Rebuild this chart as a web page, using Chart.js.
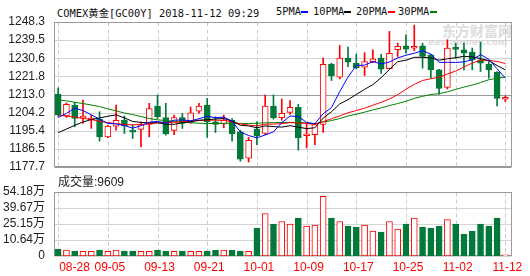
<!DOCTYPE html>
<html>
<head>
<meta charset="utf-8">
<script src="https://cdn.jsdelivr.net/npm/chart.js@4.4.0/dist/chart.umd.min.js"></script>
<style>
  body { margin: 0; background: #fff; width: 530px; height: 276px; overflow: hidden; position: relative; }
  .t { position: absolute; top: 5px; line-height: 12px; font: 10.4px "DejaVu Sans Mono", "Noto Sans CJK SC", monospace; color: #111; white-space: nowrap; }
  .d { position: absolute; top: 11px; width: 7px; height: 2px; }
  .wm { position: absolute; color: #dcdcdc; font-weight: bold; white-space: nowrap; }
  canvas { position: absolute; left: 0; }
  #vol-title { position: absolute; left: 58px; top: 172px; line-height: 14px; font: 12px "Liberation Sans", "Noto Sans CJK SC", sans-serif; color: #222; }
</style>
</head>
<body>
<div class="wm" style="left:442px;top:20px;font:bold 14px 'Noto Sans CJK SC'">东方财富网</div>
<div class="wm" style="left:428px;top:37px;font:bold 9px 'DejaVu Sans'">eastmoney.com</div>

<div class="t" style="left:57px">COMEX黄金[GC00Y] 2018-11-12 09:29</div>
<div class="t" style="left:276px">5PMA</div><div class="d" style="left:301px;background:#0000ff"></div>
<div class="t" style="left:313px">10PMA</div><div class="d" style="left:344px;background:#000"></div>
<div class="t" style="left:356px">20PMA</div><div class="d" style="left:388px;background:#ff0000"></div>
<div class="t" style="left:398px">30PMA</div><div class="d" style="left:430px;background:#008000"></div>

<canvas id="main" width="530" height="176" style="top:0"></canvas>
<div id="vol-title">成交量:9609</div>
<canvas id="vol" width="530" height="106" style="top:170px"></canvas>

<script>
const dates = ['08-28','08-29','08-30','08-31','09-03','09-04','09-05','09-06','09-07','09-10',
  '09-11','09-12','09-13','09-14','09-17','09-18','09-19','09-20','09-21','09-24',
  '09-25','09-26','09-27','09-28','10-01','10-02','10-03','10-04','10-05','10-08',
  '10-09','10-10','10-11','10-12','10-15','10-16','10-17','10-18','10-19','10-22',
  '10-23','10-24','10-25','10-26','10-29','10-30','10-31','11-01','11-02','11-05',
  '11-06','11-07','11-08','11-09','11-12'];
const labelIdx = [0, 6, 12, 18, 24, 30, 36, 42, 48, 54];

const opens = [1213.1,1202.6,1207.9,1201.5,1200.6,1201.0,1192.4,1197.6,1200.4,1195.6,
  1196.0,1198.4,1207.4,1201.8,1195.5,1201.8,1199.4,1204.9,1207.9,1199.7,
  1198.7,1200.4,1194.8,1182.0,1196.1,1194.0,1207.4,1201.7,1204.3,1206.8,
  1192.9,1193.5,1198.4,1227.7,1221.4,1230.7,1228.2,1226.3,1229.0,1230.7,
  1225.6,1234.8,1236.7,1235.5,1236.7,1232.3,1225.0,1216.5,1235.6,1234.8,
  1233.6,1229.9,1227.7,1223.8,1210.7];
const highs = [1216.3,1208.9,1209.2,1210.3,1203.0,1204.6,1198.0,1207.9,1202.5,1198.4,
  1199.7,1208.7,1212.8,1208.7,1203.0,1203.8,1206.9,1208.7,1211.1,1202.2,
  1203.0,1201.3,1195.6,1192.1,1199.7,1212.8,1212.8,1210.8,1210.1,1208.2,
  1198.9,1198.9,1230.7,1228.2,1236.9,1236.1,1232.6,1233.4,1234.8,1232.6,
  1243.7,1238.0,1242.1,1246.8,1238.0,1232.6,1225.3,1239.6,1238.0,1238.0,
  1235.6,1238.5,1229.0,1224.2,1212.3];
const lows = [1202.3,1201.8,1197.3,1198.9,1196.5,1190.3,1192.0,1195.6,1194.0,1191.6,
  1187.5,1192.4,1201.3,1193.2,1193.5,1196.5,1198.9,1203.8,1192.1,1194.5,
  1196.8,1190.3,1180.5,1180.1,1188.6,1193.5,1201.0,1200.5,1203.3,1185.9,
  1187.0,1188.6,1194.5,1219.8,1220.6,1226.6,1225.4,1222.2,1228.5,1223.3,
  1225.4,1231.5,1233.1,1234.3,1225.8,1221.2,1213.2,1215.7,1230.7,1225.0,
  1225.0,1224.2,1220.9,1207.5,1209.5];
const closes = [1203.0,1208.2,1201.3,1201.7,1201.5,1192.4,1197.6,1200.4,1197.8,1194.7,
  1198.4,1206.2,1202.2,1193.8,1201.8,1198.9,1204.1,1207.4,1199.7,1198.4,
  1200.5,1193.8,1181.5,1190.7,1192.9,1207.4,1201.7,1203.8,1206.8,1191.9,
  1193.0,1198.4,1227.7,1222.2,1230.7,1228.7,1226.1,1229.0,1230.4,1225.3,
  1233.1,1236.4,1235.1,1235.6,1231.5,1225.0,1216.0,1235.6,1235.0,1233.1,
  1229.9,1228.2,1225.0,1211.1,1210.8];

const ma5 = [1201.8,1203.8,1206.3,1205.2,1203.1,1201.0,1198.9,1198.7,1197.9,1196.6,
  1197.8,1199.5,1199.9,1199.1,1200.5,1200.6,1200.2,1201.2,1202.4,1201.7,
  1202.0,1200.0,1194.8,1193.0,1191.9,1193.3,1194.8,1199.3,1202.5,1202.3,
  1199.4,1198.8,1203.6,1206.6,1214.4,1221.5,1227.1,1227.3,1229.0,1227.9,
  1228.8,1230.8,1232.1,1233.1,1234.3,1232.7,1228.6,1228.7,1228.6,1228.9,
  1229.9,1232.4,1230.2,1225.5,1221.0];
const ma10 = [1194.4,1196.2,1198.0,1199.6,1200.8,1201.6,1202.4,1203.1,1201.6,1199.9,
  1199.4,1199.2,1199.3,1198.5,1198.5,1199.2,1199.8,1200.5,1200.7,1201.1,
  1201.3,1200.1,1198.0,1197.7,1196.8,1197.7,1197.4,1197.1,1197.8,1197.1,
  1196.4,1196.8,1201.5,1204.6,1208.4,1210.5,1213.0,1215.5,1217.8,1221.2,
  1225.2,1229.0,1229.7,1231.1,1231.1,1230.8,1229.7,1230.4,1230.9,1231.6,
  1231.3,1230.5,1229.5,1227.1,1225.0];
const ma20 = [1203.0,1202.5,1202.0,1201.4,1200.8,1200.0,1199.3,1198.8,1198.4,1198.2,
  1198.4,1198.8,1199.1,1199.3,1199.5,1199.7,1200.0,1200.3,1200.5,1200.5,
  1200.4,1199.7,1198.7,1198.1,1197.7,1198.5,1198.6,1198.8,1199.3,1199.1,
  1198.9,1198.5,1199.8,1201.2,1202.6,1204.1,1205.2,1206.3,1207.8,1209.2,
  1210.8,1212.9,1215.6,1217.9,1219.8,1220.7,1221.4,1223.0,1224.4,1226.4,
  1228.3,1229.8,1229.6,1229.1,1228.1];
const ma30 = [1210.4,1209.9,1209.2,1208.6,1207.9,1207.1,1206.0,1205.0,1204.0,1203.2,
  1202.3,1201.3,1200.7,1200.3,1199.9,1199.6,1199.3,1199.0,1198.9,1198.9,
  1199.0,1199.0,1198.9,1198.9,1199.0,1199.2,1199.3,1199.4,1199.4,1199.4,
  1199.1,1198.7,1199.6,1200.3,1201.3,1202.5,1203.4,1204.4,1205.5,1206.5,
  1207.6,1208.6,1209.7,1211.1,1212.1,1213.0,1213.4,1214.3,1215.5,1216.6,
  1217.6,1218.8,1220.2,1220.9,1221.5];

// 万
const volumes = [5.9,5.1,4.2,4.0,4.0,5.1,4.0,5.1,4.2,4.2,
  4.0,4.0,5.1,4.2,4.0,4.2,4.0,4.0,4.2,5.1,
  5.1,5.1,4.2,4.0,23.6,36.0,27.0,29.2,27.0,32.0,
  25.3,26.1,50.6,32.0,29.2,25.3,24.4,26.1,21.1,20.2,
  29.2,22.8,27.0,32.0,24.4,23.6,25.3,30.9,27.0,18.5,
  21.1,27.0,25.3,32.0,0.96];

const priceTicks = [1177.7,1186.5,1195.4,1204.2,1213.0,1221.8,1230.6,1239.5,1248.3];
const volTicks = [0, 13.545, 27.09, 40.635, 54.18];
const volTickLabels = ['0','10.64万','25.15万','39.67万','54.18万'];

const UP = '#ff0000';
const DOWN = '#00793a';
const isUp = opens.map((o, i) => closes[i] >= o);
const FONT = '"Liberation Sans", "Noto Sans CJK SC", sans-serif';

// grid lines and frame, drawn under the marks
function framePlugin(hTicks, darkIdx) {
  return {
    id: 'frame',
    beforeDatasetsDraw(chart) {
      const { ctx, chartArea: a, scales: { x, y } } = chart;
      const L = Math.round(a.left) + 0.5, R = Math.round(a.right) - 0.5;
      const T = Math.round(a.top) + 0.5, B = Math.round(a.bottom) - 0.5;
      ctx.save();
      ctx.lineWidth = 1;
      ctx.strokeStyle = '#cccccc';
      ctx.setLineDash([4, 3]);
      labelIdx.forEach(i => {
        const px = Math.round(x.getPixelForValue(i)) + 0.5;
        ctx.beginPath(); ctx.moveTo(px, T); ctx.lineTo(px, B); ctx.stroke();
      });
      ctx.setLineDash([]);
      hTicks.forEach((v, k) => {
        const py = Math.round(y.getPixelForValue(v)) + 0.5;
        ctx.strokeStyle = darkIdx.includes(k) ? '#9a9a9a' : '#d4d4d4';
        ctx.beginPath(); ctx.moveTo(L, py); ctx.lineTo(R, py); ctx.stroke();
      });
      ctx.strokeStyle = '#9a9a9a';
      ctx.strokeRect(L, T, R - L, B - T);
      ctx.restore();
    }
  };
}

const dateLabels = {
  id: 'dateLabels',
  afterDraw(chart) {
    const { ctx, chartArea: a, scales: { x } } = chart;
    ctx.save();
    ctx.fillStyle = '#ff0000';
    ctx.font = '12px ' + FONT;
    ctx.textBaseline = 'middle';
    labelIdx.forEach((i, k) => {
      const px = x.getPixelForValue(i);
      ctx.textAlign = k === 0 ? 'left' : 'center';
      ctx.fillText(dates[i], k === 0 ? px + 1 : px + 2, a.bottom + 12);
    });
    ctx.restore();
  }
};

function yAxis(min, max, ticks, fmt) {
  return {
    min, max,
    afterBuildTicks: s => { s.ticks = ticks.map(v => ({ value: v })); },
    afterFit: s => { s.width = 54; },
    grid: { display: false },
    border: { display: false },
    ticks: { autoSkip: false, padding: 1, color: '#222', font: { family: FONT, size: 12 }, callback: fmt }
  };
}

const xAxis = { type: 'linear', min: -0.5, max: 54.8, offset: false, display: false };

function maLine(label, values, color) {
  return {
    type: 'line', label,
    data: values.map((v, i) => ({ x: i, y: v })),
    borderColor: color, borderWidth: 1, pointRadius: 0, tension: 0, order: 0
  };
}

new Chart(document.getElementById('main'), {
  type: 'bar',
  data: {
    datasets: [
      maLine('5PMA', ma5, '#0000ff'),
      maLine('10PMA', ma10, '#000000'),
      maLine('20PMA', ma20, '#ff0000'),
      maLine('30PMA', ma30, '#008000'),
      {
        label: 'body',
        data: opens.map((o, i) => ({ x: i, y: [o, closes[i]] })),
        backgroundColor: isUp.map(u => u ? '#ffffff' : DOWN),
        borderColor: isUp.map(u => u ? UP : DOWN),
        borderWidth: 1, borderSkipped: false, barThickness: 6, minBarLength: 2,
        grouped: false, order: 1
      },
      {
        label: 'wick',
        data: highs.map((h, i) => ({ x: i, y: [lows[i], h] })),
        backgroundColor: isUp.map(u => u ? UP : DOWN),
        barThickness: 1, grouped: false, order: 2
      }
    ]
  },
  options: {
    responsive: false, animation: false, events: [],
    layout: { padding: { top: 22, bottom: 9, right: 18, left: 0 } },
    plugins: { legend: { display: false }, tooltip: { enabled: false } },
    scales: {
      x: xAxis,
      y: yAxis(1177.7, 1248.3, priceTicks, v => v.toFixed(1))
    }
  },
  plugins: [framePlugin(priceTicks, [0, 4, 8])]
});

new Chart(document.getElementById('vol'), {
  type: 'bar',
  data: {
    datasets: [{
      label: 'volume',
      data: volumes.map((v, i) => ({ x: i, y: v })),
      backgroundColor: isUp.map(u => u ? '#ffffff' : DOWN),
      borderColor: isUp.map(u => u ? UP : DOWN),
      borderWidth: 1, borderSkipped: false, barThickness: 6
    }]
  },
  options: {
    responsive: false, animation: false, events: [],
    layout: { padding: { top: 22, bottom: 20, right: 18, left: 0 } },
    plugins: { legend: { display: false }, tooltip: { enabled: false } },
    scales: {
      x: xAxis,
      y: yAxis(0, 54.18, volTicks, (v, idx) => volTickLabels[idx])
    }
  },
  plugins: [framePlugin(volTicks, [4]), dateLabels]
});
</script>
</body>
</html>
